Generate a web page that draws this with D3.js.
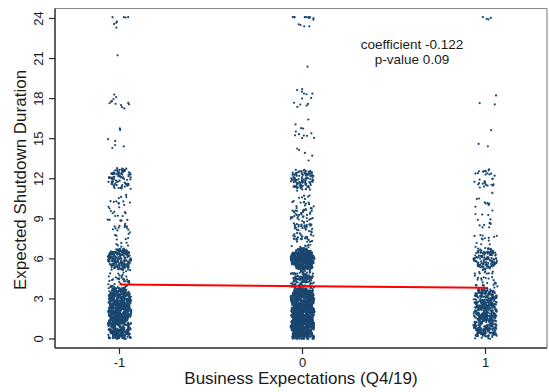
<!DOCTYPE html>
<html>
<head>
<meta charset="utf-8">
<script src="https://cdn.jsdelivr.net/npm/d3@7"></script>
<style>
  html, body { margin: 0; padding: 0; background: #fff; }
  svg { display: block; font-family: "Liberation Sans", Arial, sans-serif; }
</style>
</head>
<body>
<svg id="chart" width="549" height="392"></svg>
<script>
// Business expectation groups on the x axis
const categories = [-1, 0, 1];
// Expected shutdown duration values (months) on the y axis
const durations = d3.range(0, 25);
// Number of firms giving each duration, per expectation group
const countsNegative = [80, 250, 280, 280, 50, 25, 200, 8, 18, 15, 15, 3, 90, 1, 2, 5, 1, 0, 12, 0, 0, 1, 0, 0, 8];
const countsNeutral  = [150, 450, 450, 450, 120, 80, 450, 20, 40, 40, 30, 6, 110, 1, 4, 10, 3, 1, 12, 0, 1, 0, 0, 0, 14];
const countsPositive = [50, 150, 170, 170, 35, 20, 130, 6, 12, 10, 8, 3, 30, 1, 1, 2, 0, 0, 3, 0, 0, 0, 0, 0, 4];
const groupCounts = [countsNegative, countsNeutral, countsPositive];

const yTicks = [0, 3, 6, 9, 12, 15, 18, 21, 24];
const xTicks = [-1, 0, 1];

// Fitted line
const coefficient = -0.122;
const intercept = 3.96;
const pValue = 0.09;

const svg = d3.select("#chart");
const plot = { left: 55, right: 547, top: 8.5, bottom: 348 };

const x = d3.scaleLinear().domain([-1, 1]).range([119.5, 485.5]);
const y = d3.scaleLinear().domain([0, 24]).range([339, 18.5]);

// deterministic jitter so overlapping observations stay visible
function hash(n) {
  const s = Math.sin(n * 127.1 + 311.7) * 43758.5453;
  return s - Math.floor(s);
}
const jitterRx = 12, jitterRy = 11;

const points = [];
let id = 0;
categories.forEach((cat, ci) => {
  groupCounts[ci].forEach((count, di) => {
    const value = durations[di];
    for (let i = 0; i < count; i++) {
      id++;
      const a = 2 * Math.PI * hash(id * 1.731);
      const r = Math.sqrt(hash(id * 2.917 + 5.3));
      let py = y(value) - Math.sin(a) * r * jitterRy;
      if (py > y(0)) py = 2 * y(0) - py;
      if (py < y(24.1)) py = y(24.1);
      points.push({ cx: x(cat) + Math.cos(a) * r * jitterRx, cy: py });
    }
  });
});

// plot region outline
svg.append("line").attr("x1", plot.left).attr("x2", plot.right)
  .attr("y1", plot.top).attr("y2", plot.top)
  .attr("stroke", "#8a8a8a").attr("stroke-width", 1.2);
svg.append("line").attr("x1", plot.right).attr("x2", plot.right)
  .attr("y1", plot.top).attr("y2", plot.bottom)
  .attr("stroke", "#8a8a8a").attr("stroke-width", 1.2);

// scatter of jittered responses
svg.append("g").selectAll("circle").data(points).join("circle")
  .attr("cx", d => d.cx).attr("cy", d => d.cy).attr("r", 1.1)
  .attr("fill", "#1a476f");

// fitted regression line
const fit = v => intercept + coefficient * v;
svg.append("line")
  .attr("x1", x(-1)).attr("y1", y(fit(-1)))
  .attr("x2", x(1)).attr("y2", y(fit(1)))
  .attr("stroke", "#ff0000").attr("stroke-width", 2);

// y axis
const yAxis = svg.append("g");
yAxis.append("line").attr("x1", plot.left).attr("x2", plot.left)
  .attr("y1", plot.top).attr("y2", plot.bottom)
  .attr("stroke", "#2b2b2b").attr("stroke-width", 1.5);
yAxis.selectAll("line.tick").data(yTicks).join("line").attr("class", "tick")
  .attr("x1", plot.left - 6).attr("x2", plot.left)
  .attr("y1", d => y(d)).attr("y2", d => y(d))
  .attr("stroke", "#2b2b2b").attr("stroke-width", 1.2);
yAxis.selectAll("text").data(yTicks).join("text")
  .attr("transform", d => `translate(43,${y(d)}) rotate(-90)`)
  .attr("text-anchor", "middle").attr("font-size", 13).attr("fill", "#1a1a1a")
  .text(d => d);

// x axis
const xAxis = svg.append("g");
xAxis.append("line").attr("x1", plot.left).attr("x2", plot.right)
  .attr("y1", plot.bottom).attr("y2", plot.bottom)
  .attr("stroke", "#2b2b2b").attr("stroke-width", 1.5);
xAxis.selectAll("line.tick").data(xTicks).join("line").attr("class", "tick")
  .attr("x1", d => x(d)).attr("x2", d => x(d))
  .attr("y1", plot.bottom).attr("y2", plot.bottom + 6)
  .attr("stroke", "#2b2b2b").attr("stroke-width", 1.2);
xAxis.selectAll("text").data(xTicks).join("text")
  .attr("x", d => x(d)).attr("y", 367)
  .attr("text-anchor", "middle").attr("font-size", 13).attr("fill", "#1a1a1a")
  .text(d => d === -1 ? "-1" : d);

// axis titles
svg.append("text").attr("x", 301).attr("y", 384)
  .attr("text-anchor", "middle").attr("font-size", 17).attr("fill", "#1a1a1a")
  .text("Business Expectations (Q4/19)");
svg.append("text").attr("transform", "translate(26,180) rotate(-90)")
  .attr("text-anchor", "middle").attr("font-size", 17).attr("fill", "#1a1a1a")
  .text("Expected Shutdown Duration");

// regression annotation
const note = svg.append("g").attr("font-size", 13.5).attr("fill", "#1a1a1a").attr("text-anchor", "middle");
note.append("text").attr("x", 412).attr("y", 48.5).text(`coefficient ${coefficient}`);
note.append("text").attr("x", 412).attr("y", 64).text(`p-value ${pValue}`);
</script>
</body>
</html>
